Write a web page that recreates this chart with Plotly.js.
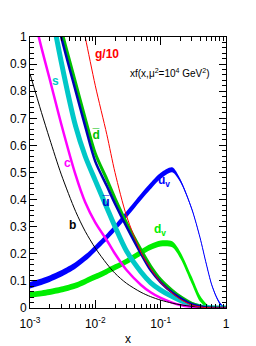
<!DOCTYPE html>
<html><head><meta charset="utf-8">
<script src="https://cdn.plot.ly/plotly-3.0.1.min.js"></script>
<style>html,body{margin:0;padding:0;background:#fff;}#chart{width:256px;height:346px;}</style>
</head><body><div id="chart"></div>
<script>
// momentum fraction grid
const xGrid = [0.001,0.0015,0.002,0.003,0.005,0.007,0.01,0.015,0.02,0.03,0.05,0.07,0.1,0.15,0.2,0.3,0.4,0.5,0.6,0.7,0.8,0.9,1.0];
// xf(x, mu^2 = 1e4 GeV^2)
const gOver10 = [1.95,1.75,1.6,1.41,1.17,1.0,0.82,0.64,0.5,0.34,0.205,0.145,0.095,0.055,0.032,0.011,0.004,0.0012,0.0003,0,0,0,0];
const dBar = [1.6,1.38,1.22,1.03,0.83,0.70,0.57,0.475,0.405,0.315,0.215,0.155,0.105,0.065,0.042,0.017,0.007,0.002,0.0005,0,0,0,0];
const uBar = [1.55,1.33,1.18,1.0,0.80,0.67,0.54,0.45,0.385,0.3,0.2,0.14,0.095,0.057,0.037,0.014,0.006,0.002,0.0005,0,0,0,0];
const sQuark = [1.59,1.32,1.135,0.91,0.67,0.56,0.47,0.37,0.3,0.21,0.133,0.094,0.066,0.042,0.028,0.012,0.005,0.002,0.0005,0,0,0,0];
const cQuark = [1.13,0.96,0.845,0.68,0.49,0.39,0.315,0.25,0.2,0.14,0.085,0.058,0.037,0.02,0.011,0.004,0.0015,0.0005,0,0,0,0,0];
const bQuark = [0.864,0.721,0.624,0.494,0.356,0.283,0.221,0.163,0.128,0.091,0.058,0.042,0.029,0.018,0.012,0.006,0.003,0.001,0.0003,0,0,0,0];
const uValence = [0.084,0.097,0.108,0.127,0.158,0.185,0.22,0.262,0.295,0.345,0.41,0.45,0.488,0.51,0.47,0.365,0.26,0.162,0.088,0.045,0.018,0.005,0];
const uValenceErr = [0.012,0.012,0.012,0.012,0.012,0.012,0.012,0.012,0.012,0.012,0.012,0.012,0.011,0.009,0.006,0.003,0.002,0.002,0.002,0.003,0.004,0.003,0];
const dValence = [0.048,0.054,0.059,0.068,0.083,0.098,0.115,0.135,0.15,0.172,0.205,0.225,0.238,0.235,0.195,0.102,0.035,0.01,0.002,0,0,0,0];
const dValenceErr = [0.011,0.011,0.011,0.011,0.011,0.011,0.011,0.011,0.011,0.011,0.011,0.011,0.011,0.011,0.012,0.013,0.011,0.006,0.003,0.001,0,0,0];

const xTickVals = [0.001,0.01,0.1,1];
const xTickText = ['10<sup>-3</sup>','10<sup>-2</sup>','10<sup>-1</sup>','1'];

const FONT = 'Liberation Sans, Arial, Helvetica, sans-serif';

function band(center, err, color, name) {
  const up = center.map((v,i)=>v+err[i]);
  const lo = center.map((v,i)=>v-err[i]);
  return [{
    x: xGrid.concat(xGrid.slice().reverse()),
    y: up.concat(lo.slice().reverse()),
    type:'scatter', mode:'lines', fill:'toself', fillcolor:color,
    line:{width:0, color:color, shape:'spline', smoothing:0.8}, hoverinfo:'skip', name:name
  },{
    x: xGrid, y: center, type:'scatter', mode:'lines',
    line:{width:1, color:color, shape:'spline', smoothing:0.8}, name:name
  }];
}
function curve(y, color, width, name) {
  return {x:xGrid, y:y, type:'scatter', mode:'lines', name:name,
    line:{color:color, width:width, shape:'spline', smoothing:0.8}};
}

const traces = [].concat(
  band(uValence, uValenceErr, '#0000ff', 'u_v'),
  band(dValence, dValenceErr, '#00ee00', 'd_v'),
  [curve(sQuark, '#00c8c8', 5, 's'),
   curve(cQuark, '#ff00ff', 2.5, 'c'),
   curve(bQuark, '#000000', 1, 'b'),
   curve(dBar, '#00c000', 3, 'dbar'),
   curve(uBar, '#0000b4', 2.5, 'ubar'),
   curve(gOver10, '#ff0000', 1, 'g/10')]
);

const minorX = [];
for (let d = -3; d < 0; d++) for (let k = 2; k <= 9; k++) minorX.push(k*Math.pow(10,d));

const lab = (txt, lx, y, color, extra) => Object.assign({
  x: lx, y: y, xref:'x', yref:'y', text: txt, showarrow:false,
  font:{family:FONT, size:12, color:color, weight:'bold'}
}, extra||{});

const layout = {
  width:256, height:346, autosize:false,
  margin:{l:30, r:30, t:37, b:38},
  paper_bgcolor:'#fff', plot_bgcolor:'#fff',
  showlegend:false,
  font:{family:FONT, color:'#000'},
  xaxis:{type:'log', range:[-3,0], tickmode:'array', tickvals:xTickVals, ticktext:xTickText,
    ticks:'inside', ticklen:8, tickwidth:1, tickcolor:'#000', ticklabelstandoff:5,
    minor:{tickmode:'array', tickvals:minorX, ticks:'inside', ticklen:4, tickcolor:'#000', showgrid:false},
    showline:true, linecolor:'#000', linewidth:1, mirror:'allticks',
    showgrid:false, zeroline:false,
    tickfont:{family:FONT, size:12, color:'#000'},
    title:{text:'x', font:{family:FONT, size:12, color:'#000'}, standoff:4}},
  yaxis:{range:[0,1], dtick:0.1, tick0:0,
    ticks:'inside', ticklen:7, tickwidth:1, tickcolor:'#000',
    minor:{dtick:0.02, ticks:'inside', ticklen:4, tickcolor:'#000', showgrid:false},
    showline:true, linecolor:'#000', linewidth:1, mirror:'allticks',
    showgrid:false, zeroline:false,
    tickfont:{family:FONT, size:12, color:'#000'}},
  annotations:[
    lab('g/10', -1.815, 0.937, '#ff0000'),
    lab('xf(x,μ<sup>2</sup>=10<sup>4</sup> GeV<sup>2</sup>)', -1.494, 0.869, '#000', {xanchor:'left', font:{family:FONT, size:10, color:'#000'}}),
    lab('s', -2.61, 0.837, '#00c8c8'),
    lab('d\u0305', -1.983, 0.64, '#00c000'),
    lab('c', -2.431, 0.536, '#ff00ff'),
    lab('u\u0305', -1.83, 0.392, '#0000d0'),
    lab('b', -2.355, 0.308, '#000'),
    lab('u<sub>v</sub>', -0.943, 0.468, '#0000ff'),
    lab('d<sub>v</sub>', -1.004, 0.289, '#00ee00')
  ]
};

Plotly.newPlot('chart', traces, layout, {staticPlot:true, displayModeBar:false});
</script>
</body></html>
